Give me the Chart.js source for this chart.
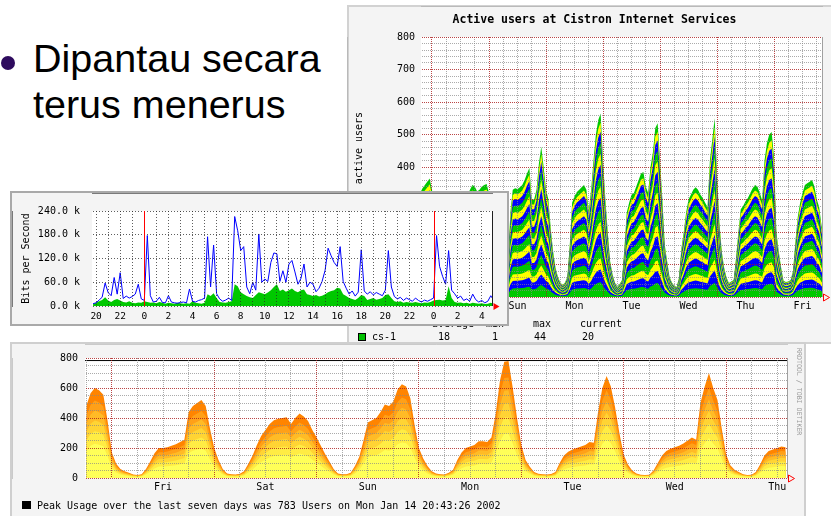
<!DOCTYPE html>
<html>
<head>
<meta charset="utf-8">
<script src="https://cdn.jsdelivr.net/npm/chart.js@4.4.1/dist/chart.umd.min.js"></script>
<style>
  html, body { margin: 0; padding: 0; background: #fff; }
  body { width: 831px; height: 516px; position: relative; overflow: hidden; font-family: "Liberation Sans", Arial, sans-serif; }
  .layer { position: absolute; left: 0; top: 0; width: 831px; height: 516px; }
  .panel { position: absolute; box-sizing: border-box; background: #f4f4f4; }
  canvas { position: absolute; }
  .mono { position: absolute; font-family: "DejaVu Sans Mono", monospace; font-size: 10px; line-height: 10px; white-space: nowrap; color: #000; }
  .slide { position: absolute; font-size: 39.5px; line-height: 46px; color: #000; white-space: nowrap; }
</style>
</head>
<body>

<div id="bullet" style="position:absolute;left:1px;top:56px;width:14px;height:14px;border-radius:50%;background:#2e0b5e"></div>
<div class="slide" style="left:33px;top:35px">Dipantau secara<br>terus menerus</div>

<!-- active users (back) -->
<div class="layer" style="z-index:1">
  <div class="panel" style="left:347px;top:5px;width:495px;height:339px;border:2px solid #d2d2d2"></div>
  <canvas id="cTop" width="484" height="339" style="left:347px;top:6px"></canvas>
  <div class="mono" style="left:347px;top:13px;width:495px;text-align:center;font-weight:bold;font-size:11.5px;line-height:12px">Active users at Cistron Internet Services</div>
  <div class="mono" style="left:309px;top:142px;width:100px;text-align:center;line-height:12px;transform:rotate(-90deg)">active users</div>
  <div id="topLegend"></div>
</div>

<!-- peak usage (bottom) -->
<div class="layer" style="z-index:2">
  <div class="panel" style="left:10px;top:342px;width:796px;height:180px;border:2px solid #cfcfcf"></div>
  <canvas id="cBot" width="793" height="172" style="left:12px;top:344px"></canvas>
  <div style="position:absolute;left:22px;top:501px;width:9px;height:8px;background:#000"></div>
  <div class="mono" id="botFooter" style="left:37px;top:500.5px"></div>
  <div class="mono" style="left:795px;top:348px;font-size:6.6px;line-height:7px;writing-mode:vertical-rl;color:#9a9a9a">RRDTOOL / TOBI OETIKER</div>
</div>

<!-- bits per second (front) -->
<div class="layer" style="z-index:3">
  <div class="panel" style="left:10px;top:191px;width:499px;height:135px;border:2px solid #a9a9a9"></div>
  <canvas id="cMid" width="494" height="131" style="left:12px;top:193px"></canvas>
</div>

<script>
// ---- Active users at Cistron: hourly totals, first value at Fri 19:00 (hour -5 from Sat 00:00)
const activeStartHour = -5;
const activeUsers = [
  320, 335, 345, 355, 365,
  330, 250, 170, 105, 65, 42, 32, 34, 55, 110, 170, 220, 255, 280, 300, 315, 330, 345, 340, 325, 330, 340, 345, 348,
  320, 240, 160, 100, 60, 40, 32, 35, 110, 260, 330, 335, 332, 338, 345, 360, 380, 397, 300, 300, 330, 410, 462, 400,
  330, 300, 210, 140, 90, 62, 45, 37, 45, 62, 160, 290, 310, 323, 330, 338, 345, 330, 265, 330, 420, 500, 545, 565,
  420, 300, 200, 110, 70, 45, 31, 40, 52, 150, 260, 290, 315, 320, 340, 360, 380, 385, 340, 320, 400, 445, 520, 535,
  420, 300, 160, 110, 62, 45, 35, 31, 60, 150, 200, 260, 300, 315, 330, 338, 330, 315, 305, 290, 277, 420, 483, 550,
  380, 230, 140, 90, 60, 43, 48, 52, 120, 200, 270, 280, 295, 305, 320, 335, 345, 340, 320, 298, 420, 473, 500, 508,
  430, 200, 140, 90, 50, 46, 48, 52, 80, 170, 246, 290, 320, 345, 350, 355, 360, 340, 300, 277, 220, 190
];
// thickness of each stacked band, bottom to top
const activeShares = [0.08, 0.07, 0.06, 0.07, 0.07, 0.06, 0.07, 0.06, 0.06, 0.06, 0.06, 0.06, 0.06, 0.06, 0.05, 0.05];
const activeColors = ['#00c800', '#0000ff', '#ffff00'];
const activeDays = ['Sat', 'Sun', 'Mon', 'Tue', 'Wed', 'Thu', 'Fri'];
const legendHeads = ['average', 'min', 'max', 'current'];
const legendStats = [18, 1, 44, 20];

// ---- Bits per second: one sample every 15 min from 19:45, values in k
const bitsStart = 19.75;
const bitsStep = 0.25;
const bitsOut = [
  6, 8, 15, 22, 58, 34, 26, 72, 30, 84, 19, 25, 20, 24, 30, 55, 18,
  14, 178, 26, 10, 12, 22, 9, 8, 26, 10, 8, 7, 9, 10, 8, 43, 12, 10, 14, 16,
  20, 175, 48, 154, 31, 18, 12, 15, 20, 14,
  226, 190, 140, 150, 48, 31,
  60, 40, 182, 60, 68, 62,
  110, 134, 132, 62, 89, 60,
  106, 115, 86, 55, 70, 106, 48, 60, 55, 36, 45, 62,
  90, 146, 127, 110, 100, 150, 62, 45, 30, 38, 25, 35,
  142, 38, 30, 36, 28, 34, 30, 26,
  40, 140, 48, 24, 18, 22, 14, 20, 16, 12, 20, 14, 10, 15, 12, 16,
  20, 178, 100, 75, 55, 140, 40, 31, 20, 25, 14, 18, 12, 30, 16, 10, 14, 8, 12, 26, 14
];
const bitsIn = [
  5, 8, 12, 15, 22, 14, 10, 15, 18, 14, 10, 9, 12, 8, 7, 9, 8,
  12, 10, 8, 9, 7, 10, 8, 6, 8, 7, 6, 8, 7, 6, 7, 6, 12, 8, 7, 6,
  8, 30, 25, 32, 20, 10, 9, 8, 10, 12,
  55, 50, 35, 30, 25, 22,
  20, 28, 35, 32, 30, 34,
  40, 48, 55, 38, 42, 36,
  40, 44, 38, 35, 40, 42, 30, 28, 25, 28, 24, 26,
  30, 35, 38, 40, 46, 44, 30, 25, 20, 18, 15, 20,
  28, 25, 15, 18, 20, 16, 18, 20,
  28, 30, 20, 12, 10, 12, 8, 10, 9, 8, 10, 8, 7, 9, 8, 10,
  14, 15, 16, 14, 15, 50, 20, 10, 8, 9, 7, 8, 6, 8, 7, 6, 7, 5, 6, 8, 6
];
const midnightHours = [24, 48];
const bitsTicks = [0, 60, 120, 180, 240];

// ---- Peak usage: hourly users, first value at Thu 18:00 (hour -6 from Fri 00:00)
const usageStartHour = -6;
const usageUsers = [
  480, 565, 600, 585, 555, 380,
  170, 95, 60, 45, 35, 24, 20, 25, 60, 110, 165, 200, 200, 205, 215, 225, 240, 255, 440, 480, 500, 520, 480, 330,
  200, 120, 60, 30, 25, 24, 28, 45, 95, 150, 220, 280, 320, 360, 385, 395, 400, 405, 360, 400, 430, 410, 380, 320,
  270, 215, 160, 110, 60, 30, 25, 25, 35, 80, 140, 250, 370, 385, 400, 440, 490, 480, 510, 590, 625, 610, 530, 350,
  200, 130, 80, 45, 30, 25, 24, 35, 55, 120, 170, 200, 210, 220, 245, 245, 240, 270, 430, 650, 775, 780, 600, 400,
  220, 120, 75, 40, 28, 25, 24, 26, 40, 100, 150, 175, 190, 200, 210, 220, 240, 235, 440, 600, 680, 610, 470, 300,
  155, 90, 50, 30, 22, 20, 22, 50, 100, 150, 180, 195, 205, 215, 230, 250, 270, 255, 500, 610, 700, 600, 520, 330,
  160, 85, 55, 40, 25, 20, 22, 40, 90, 150, 180, 190, 200, 210, 205
];
const usageShares = [0.38, 0.14, 0.12, 0.11, 0.11, 0.14];
const usageColors = ['#ffff58', '#ffec44', '#ffd434', '#ffbb26', '#ffa018', '#ff8400'];
const usageDays = ['Fri', 'Sat', 'Sun', 'Mon', 'Tue', 'Wed', 'Thu'];
const peakUsers = 783;
const peakText = 'Peak Usage over the last seven days was 783 Users on Mon Jan 14 20:43:26 2002';

// white plot area, optional right edge line, optional red day-change lines
const plotBox = {
  id: 'plotBox',
  beforeDraw(chart) {
    const { ctx, chartArea: a } = chart;
    ctx.save();
    ctx.fillStyle = '#fff';
    ctx.fillRect(a.left, a.top, a.right - a.left, a.bottom - a.top);
    ctx.restore();
  },
  afterDraw(chart, args, o) {
    const { ctx, chartArea: a } = chart;
    ctx.save();
    ctx.lineWidth = 1;
    if (o.edge) {
      const x = Math.round(a.right) + 0.5;
      ctx.strokeStyle = o.edge;
      ctx.beginPath();
      ctx.moveTo(x, a.top);
      ctx.lineTo(x, a.bottom);
      ctx.stroke();
    }
    if (o.marks) {
      ctx.strokeStyle = '#ff0000';
      o.marks.forEach(h => {
        const x = Math.round(chart.scales.x.getPixelForValue(h)) + 0.5;
        ctx.beginPath();
        ctx.moveTo(x, a.top);
        ctx.lineTo(x, a.bottom);
        ctx.stroke();
      });
    }
    ctx.restore();
  }
};

// little red arrow at the end of the time axis
const axisArrow = {
  id: 'axisArrow',
  afterDraw(chart, args, o) {
    const { ctx, chartArea: a } = chart;
    const x = Math.round(a.right) + 1.5, y = Math.round(a.bottom) + 0.5;
    ctx.save();
    ctx.strokeStyle = '#ff0000';
    ctx.fillStyle = '#ff0000';
    ctx.lineWidth = 1;
    ctx.beginPath();
    ctx.moveTo(x, y - 3.5);
    ctx.lineTo(x + 6, y);
    ctx.lineTo(x, y + 3.5);
    ctx.closePath();
    if (o.filled) ctx.fill(); else ctx.stroke();
    ctx.restore();
  }
};

const mono = size => ({ family: 'DejaVu Sans Mono', size: size });
const minorGray = 'rgba(135,135,135,0.7)';
const majorRed = 'rgba(170,25,25,0.8)';

function baseOptions(padding) {
  return {
    responsive: false,
    animation: false,
    events: [],
    layout: { padding: padding },
    plugins: { legend: { display: false }, tooltip: { enabled: false } }
  };
}

// ---------- Active users chart
const topOpts = baseOptions({ left: 0, top: 31, right: 9, bottom: 0 });
topOpts.plugins.plotBox = { edge: '#a0a0a0' };
topOpts.plugins.axisArrow = { filled: false };
topOpts.scales = {
  x: {
    type: 'linear', min: -4.63, max: 164.2,
    afterFit: s => { s.height = 48; },
    afterBuildTicks: s => {
      const t = [];
      for (let h = 0; h <= s.max; h += 6) t.push({ value: h });
      s.ticks = t;
    },
    ticks: {
      autoSkip: false, maxRotation: 0, padding: 3, font: mono(10), color: '#000',
      callback: v => (v % 24 === 12 ? activeDays[(v - 12) / 24] : '')
    },
    grid: { z: 1, drawTicks: false, color: c => (c.tick && c.tick.value % 24 === 0 ? majorRed : minorGray) },
    border: { color: '#a0a0a0', dash: [1, 1] }
  },
  y: {
    stacked: true, min: 0, max: 800,
    afterFit: s => { s.width = 74; },
    ticks: {
      stepSize: 20, autoSkip: false, padding: 6, font: mono(10), color: '#000',
      callback: v => (v % 100 === 0 ? v : '')
    },
    grid: { z: 1, drawTicks: false, color: c => (c.tick && c.tick.value % 100 === 0 ? majorRed : minorGray) },
    border: { color: '#a0a0a0', dash: [1, 1] }
  }
};

new Chart(document.getElementById('cTop'), {
  type: 'line',
  data: {
    datasets: activeShares.map((share, k) => ({
      data: activeUsers.map((v, i) => ({ x: activeStartHour + i, y: v * share })),
      backgroundColor: activeColors[k % activeColors.length],
      borderWidth: 0,
      pointRadius: 0,
      fill: 'origin'
    }))
  },
  options: topOpts,
  plugins: [plotBox, axisArrow]
});

// legend under the active users chart
const legendBox = document.getElementById('topLegend');
const headX = [432, 486, 533, 580];
const statX = [438, 492, 534, 582];
let legendHtml = '<div style="position:absolute;left:358px;top:333px;width:6px;height:6px;background:#00c000;border:1px solid #000"></div>';
legendHtml += '<div class="mono" style="left:372px;top:331.5px">cs-1</div>';
legendHeads.forEach((h, i) => { legendHtml += `<div class="mono" style="left:${headX[i]}px;top:318.5px">${h}</div>`; });
legendStats.forEach((v, i) => { legendHtml += `<div class="mono" style="left:${statX[i]}px;top:331.5px">${v}</div>`; });
legendBox.innerHTML = legendHtml;

// ---------- Bits per second chart
const midOpts = baseOptions({ left: 0, top: 13, right: 14, bottom: 0 });
midOpts.plugins.plotBox = { edge: '#202020', marks: midnightHours };
midOpts.plugins.axisArrow = { filled: true };
midOpts.scales = {
  x: {
    type: 'linear', min: 19.66, max: 52.85,
    afterFit: s => { s.height = 18; },
    afterBuildTicks: s => {
      const t = [];
      for (let h = 20; h <= s.max; h += 1) t.push({ value: h });
      s.ticks = t;
    },
    ticks: {
      autoSkip: false, maxRotation: 0, padding: 5, font: mono(9.5), color: '#000',
      callback: v => (v % 2 === 0 ? String(v % 24) : '')
    },
    grid: { z: 1, drawTicks: false, color: c => (c.tick && c.tick.value % 24 === 0 ? 'rgba(0,0,0,0)' : 'rgba(40,40,40,0.75)') },
    border: { color: '#000', dash: [1, 2] }
  },
  y: {
    min: 0, max: 240,
    afterFit: s => { s.width = 80; },
    afterBuildTicks: s => { s.ticks = bitsTicks.map(v => ({ value: v })); },
    ticks: { autoSkip: false, padding: 12, font: mono(10), color: '#000', callback: v => v.toFixed(1) + ' k' },
    grid: { z: 1, drawTicks: false, color: 'rgba(40,40,40,0.75)' },
    border: { color: '#000', dash: [1, 2] },
    title: { display: true, text: 'Bits per Second', font: mono(10), color: '#000', padding: { top: 8, bottom: 0 } }
  }
};

new Chart(document.getElementById('cMid'), {
  type: 'line',
  data: {
    datasets: [{
      data: bitsOut.map((v, i) => ({ x: bitsStart + i * bitsStep, y: v })),
      borderColor: '#0000ff', borderWidth: 1, pointRadius: 0, fill: false
    }, {
      data: bitsIn.map((v, i) => ({ x: bitsStart + i * bitsStep, y: v })),
      backgroundColor: '#00c800', borderWidth: 0, pointRadius: 0, fill: 'origin'
    }]
  },
  options: midOpts,
  plugins: [plotBox, axisArrow]
});

// ---------- Peak usage chart
const usageMin = -6.3, usageMax = 158.3;
const botOpts = baseOptions({ left: 0, top: 14, right: 18, bottom: 0 });
botOpts.plugins.plotBox = { edge: '#a0a0a0' };
botOpts.plugins.axisArrow = { filled: false };
botOpts.scales = {
  x: {
    type: 'linear', min: usageMin, max: usageMax,
    afterFit: s => { s.height = 38; },
    afterBuildTicks: s => {
      const t = [];
      for (let h = -6; h <= s.max; h += 6) t.push({ value: h });
      s.ticks = t;
    },
    ticks: {
      autoSkip: false, maxRotation: 0, padding: 3, font: mono(10), color: '#000',
      callback: v => (v % 24 === 12 ? usageDays[(v - 12) / 24] : '')
    },
    grid: { z: 1, drawTicks: false, color: c => (c.tick && c.tick.value % 24 === 0 ? majorRed : minorGray) },
    border: { color: '#a0a0a0', dash: [1, 1] }
  },
  y: {
    stacked: true, min: 0, max: 800,
    afterFit: s => { s.width = 73; },
    ticks: {
      stepSize: 50, autoSkip: false, padding: 7, font: mono(10), color: '#000',
      callback: v => (v % 200 === 0 ? v : '')
    },
    grid: { z: 1, drawTicks: false, color: c => (c.tick && c.tick.value % 200 === 0 ? majorRed : minorGray) },
    border: { color: '#a0a0a0', dash: [1, 1] }
  }
};

const botSets = [{
  data: [{ x: usageMin, y: peakUsers }, { x: usageMax, y: peakUsers }],
  borderColor: '#000', borderWidth: 1, pointRadius: 0, fill: false, stack: 'peak'
}];
usageShares.forEach((share, k) => {
  botSets.push({
    data: usageUsers.map((v, i) => ({ x: usageStartHour + i, y: v * share })),
    backgroundColor: usageColors[k],
    borderWidth: 0, pointRadius: 0, fill: 'origin', stack: 'usage'
  });
});

new Chart(document.getElementById('cBot'), {
  type: 'line',
  data: { datasets: botSets },
  options: botOpts,
  plugins: [plotBox, axisArrow]
});

document.getElementById('botFooter').textContent = peakText;
</script>
</body>
</html>
